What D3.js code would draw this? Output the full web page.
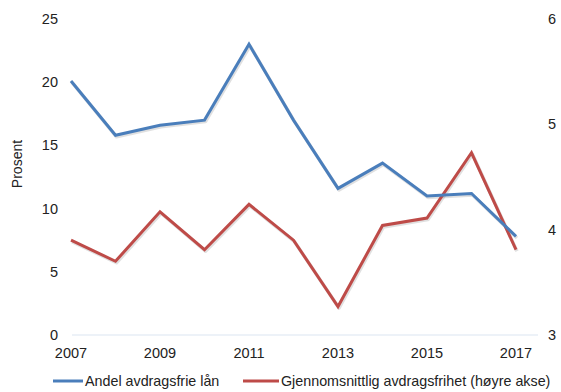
<!DOCTYPE html>
<html>
<head>
<meta charset="utf-8">
<script src="https://cdn.jsdelivr.net/npm/d3@7"></script>
<style>
  body { margin: 0; background: #fff; }
  text { font-family: "Liberation Sans", Arial, sans-serif; fill: #222; }
</style>
</head>
<body>
<script>
// data
const years = [2007, 2008, 2009, 2010, 2011, 2012, 2013, 2014, 2015, 2016, 2017];
const andelAvdragsfrie = [20.1, 15.8, 16.6, 17.0, 23.0, 17.0, 11.6, 13.6, 11.0, 11.2, 7.8];
const snittAvdragsfrihet = [3.90, 3.70, 4.17, 3.81, 4.24, 3.90, 3.27, 4.04, 4.11, 4.73, 3.81];
const leftTicks = [0, 5, 10, 15, 20, 25];
const rightTicks = [3, 4, 5, 6];
const yearTicks = [2007, 2009, 2011, 2013, 2015, 2017];
const seriesNames = ["Andel avdragsfrie lån", "Gjennomsnittlig avdragsfrihet (høyre akse)"];
const colors = ["#4a7ebb", "#be4b48"];

const width = 561, height = 392;

const svg = d3.select('body').append('svg')
    .attr('width', width)
    .attr('height', height);

const x = d3.scaleLinear().domain([2007, 2017]).range([71, 516]);
const yLeft = d3.scaleLinear().domain([0, 25]).range([335, 19]);
const yRight = d3.scaleLinear().domain([3, 6]).range([335, 19]);

// baseline
svg.append('line')
    .attr('x1', 72).attr('x2', 538)
    .attr('y1', yLeft(0)).attr('y2', yLeft(0))
    .attr('stroke', '#dbe5f1').attr('stroke-width', 1.2);

// left axis labels
svg.append('g').selectAll('text')
    .data(leftTicks)
    .join('text')
    .attr('x', 58)
    .attr('y', d => yLeft(d))
    .attr('dy', '0.35em')
    .attr('text-anchor', 'end')
    .style('font-size', '14.5px')
    .text(d => d);

// right axis labels
svg.append('g').selectAll('text')
    .data(rightTicks)
    .join('text')
    .attr('x', 548)
    .attr('y', d => yRight(d))
    .attr('dy', '0.35em')
    .attr('text-anchor', 'start')
    .style('font-size', '14.5px')
    .text(d => d);

// x labels
svg.append('g').selectAll('text')
    .data(yearTicks)
    .join('text')
    .attr('x', d => x(d))
    .attr('y', 353)
    .attr('dy', '0.35em')
    .attr('text-anchor', 'middle')
    .style('font-size', '14.5px')
    .text(d => d);

// y title
svg.append('text')
    .attr('transform', 'translate(17,164) rotate(-90)')
    .attr('text-anchor', 'middle')
    .attr('dy', '0.35em')
    .style('font-size', '14px')
    .text('Prosent');

const lineLeft = d3.line()
    .x((d, i) => x(years[i]))
    .y(d => yLeft(d));
const lineRight = d3.line()
    .x((d, i) => x(years[i]))
    .y(d => yRight(d));

const series = [
    { values: andelAvdragsfrie, line: lineLeft, color: colors[0] },
    { values: snittAvdragsfrihet, line: lineRight, color: colors[1] }
];

// faint shadow under the lines, like the office chart
series.forEach(s => {
    svg.append('path')
        .attr('d', s.line(s.values))
        .attr('transform', 'translate(1,1.5)')
        .attr('fill', 'none')
        .attr('stroke', '#000')
        .attr('stroke-opacity', 0.12)
        .attr('stroke-width', 3.5)
        .attr('stroke-linejoin', 'round');
});
series.slice().reverse().forEach(s => {
    svg.append('path')
        .attr('d', s.line(s.values))
        .attr('fill', 'none')
        .attr('stroke', s.color)
        .attr('stroke-width', 3)
        .attr('stroke-linejoin', 'miter');
});

// legend
const legendX = [53, 243];
const legend = svg.append('g').selectAll('g')
    .data(seriesNames)
    .join('g')
    .attr('transform', (d, i) => `translate(${legendX[i]},381)`);
legend.append('line')
    .attr('x1', 0).attr('x2', (d, i) => i ? 36 : 30)
    .attr('stroke', (d, i) => colors[i])
    .attr('stroke-width', 3);
legend.append('text')
    .attr('x', (d, i) => i ? 38 : 32)
    .attr('dy', '0.35em')
    .style('font-size', '14.3px')
    .text(d => d);
</script>
</body>
</html>
